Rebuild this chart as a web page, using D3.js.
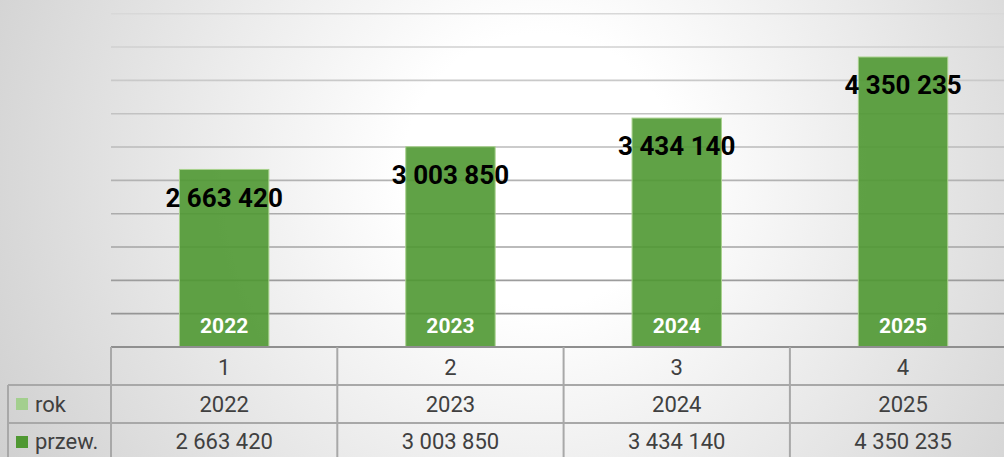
<!DOCTYPE html>
<html lang="pl">
<head>
<meta charset="UTF-8">
<title>przew. 2022-2025</title>
<script src="https://cdn.jsdelivr.net/npm/d3@7"></script>
<style>
    body{ margin:0; overflow:hidden; }
    .grid line{ stroke:url(#gridGrad); stroke-width:1.6px; }
    .tbl line{ stroke:#a8a8a8; stroke-width:2px; }
    .cell{ font-family:Roboto, sans-serif; font-size:22px; fill:#404040; }
    .val{ font-family:Roboto, sans-serif; font-size:26px; font-weight:bold; fill:#000; }
    .yr{ font-family:Roboto, sans-serif; font-size:21px; font-weight:bold; fill:#fff; }
</style>
</head>
<body>
<svg id="chart"></svg>
<script>
    // data
    const categories = ['1', '2', '3', '4'];
    const rok = [2022, 2023, 2024, 2025];
    const przew = [2663420, 3003850, 3434140, 4350235];
    const seriesNames = ['rok', 'przew.'];

    const width = 1004, height = 457;
    const plotLeft = 111, baseY = 347, rowH = 38;

    let svg = d3.select('#chart').attr('width', width).attr('height', height);

    // background: white glow in the middle, grey edges
    let defs = svg.append('defs');
    let grad = defs.append('radialGradient').attr('id', 'bg')
        .attr('gradientUnits', 'userSpaceOnUse')
        .attr('cx', 540).attr('cy', 170).attr('r', 620);
    grad.append('stop').attr('offset', 0).attr('stop-color', '#ffffff');
    grad.append('stop').attr('offset', 0.22).attr('stop-color', '#ffffff');
    grad.append('stop').attr('offset', 1).attr('stop-color', '#cfcfcf');
    svg.append('rect').attr('width', width).attr('height', height).attr('fill', 'url(#bg)');

    let x = d3.scaleBand().domain(categories).range([plotLeft, plotLeft + 4 * 226.3]);
    let y = d3.scaleLinear().domain([0, 5000000]).range([baseY, 13.7]);

    // gridlines get darker towards the bottom
    let gg = defs.append('linearGradient').attr('id', 'gridGrad')
        .attr('gradientUnits', 'userSpaceOnUse')
        .attr('x1', 0).attr('x2', 0).attr('y1', y(5000000)).attr('y2', y(0));
    gg.append('stop').attr('offset', 0).attr('stop-color', '#d8d8d8');
    gg.append('stop').attr('offset', 1).attr('stop-color', '#8e8e8e');

    svg.append('g').attr('class', 'grid')
        .selectAll('line').data(y.ticks(10).filter(t => t > 0)).enter()
        .append('line')
        .attr('x1', plotLeft).attr('x2', width)
        .attr('y1', d => y(d)).attr('y2', d => y(d));

    // bars
    let barW = x.bandwidth() * 0.395;
    let cx = c => x(c) + x.bandwidth() / 2;
    svg.append('g').selectAll('rect').data(przew).enter()
        .append('rect')
        .attr('x', (d, i) => cx(categories[i]) - barW / 2)
        .attr('y', d => y(d))
        .attr('width', barW)
        .attr('height', d => y(0) - y(d))
        .attr('fill', '#4f9832')
        .attr('fill-opacity', 0.9)
        .attr('stroke', '#a9d18e')
        .attr('stroke-width', 1);

    // value labels
    svg.append('g').selectAll('text').data(przew).enter()
        .append('text').attr('class', 'val')
        .attr('x', (d, i) => cx(categories[i]))
        .attr('y', d => y(d) + 28)
        .attr('dy', '0.36em')
        .attr('text-anchor', 'middle')
        .text(d => d3.format(',')(d).replace(/,/g, ' '));

    // year labels inside the bars
    svg.append('g').selectAll('text').data(rok).enter()
        .append('text').attr('class', 'yr')
        .attr('x', (d, i) => cx(categories[i]))
        .attr('y', y(0) - 22)
        .attr('dy', '0.36em')
        .attr('text-anchor', 'middle')
        .text(d => d);

    // data table
    let tbl = svg.append('g').attr('class', 'tbl');
    let r1 = baseY + rowH, r2 = baseY + 2 * rowH;
    tbl.append('line').attr('x1', plotLeft).attr('x2', width).attr('y1', baseY).attr('y2', baseY)
        .style('stroke', '#8f8f8f');
    [r1, r2].forEach(yy => tbl.append('line').attr('x1', 8).attr('x2', width).attr('y1', yy).attr('y2', yy));
    tbl.append('line').attr('x1', 8).attr('x2', 8).attr('y1', r1).attr('y2', height);
    categories.forEach(c => {
        tbl.append('line').attr('x1', x(c)).attr('x2', x(c)).attr('y1', baseY).attr('y2', height);
    });

    let cells = svg.append('g');
    categories.forEach((c, i) => {
        cells.append('text').attr('class', 'cell').attr('x', cx(c)).attr('y', baseY + rowH / 2 + 1)
            .attr('dy', '0.36em').attr('text-anchor', 'middle').text(c);
        cells.append('text').attr('class', 'cell').attr('x', cx(c)).attr('y', r1 + rowH / 2)
            .attr('dy', '0.36em').attr('text-anchor', 'middle').text(rok[i]);
        cells.append('text').attr('class', 'cell').attr('x', cx(c)).attr('y', r2 + 18)
            .attr('dy', '0.36em').attr('text-anchor', 'middle')
            .text(d3.format(',')(przew[i]).replace(/,/g, ' '));
    });

    // legend keys in the row headers
    const keyColors = ['#a3cf8e', '#4f9832'];
    seriesNames.forEach((s, i) => {
        let yy = baseY + (i + 1) * rowH;
        cells.append('rect').attr('x', 16).attr('y', yy + rowH / 2 - 6)
            .attr('width', 12).attr('height', 12).attr('fill', keyColors[i]);
        cells.append('text').attr('class', 'cell').attr('x', 35).attr('y', yy + (i ? 18 : rowH / 2))
            .attr('dy', '0.36em').text(s);
    });
</script>
</body>
</html>
